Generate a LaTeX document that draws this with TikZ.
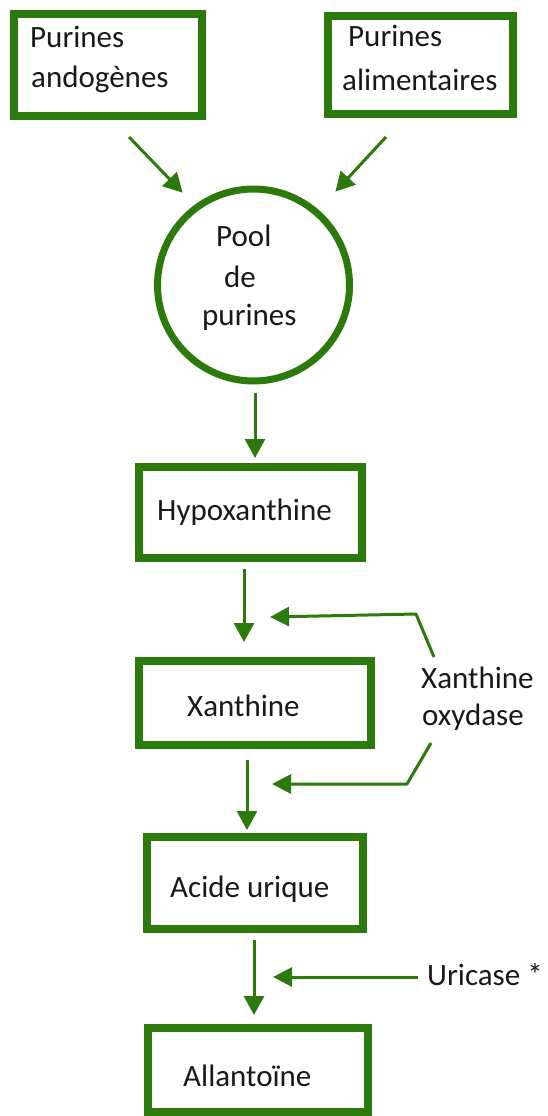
\documentclass[tikz,border=0pt]{standalone}
\usepackage{fontspec}
\setmainfont{Carlito}
\usetikzlibrary{arrows.meta}
\definecolor{grn}{RGB}{43,122,11}
\definecolor{ink}{RGB}{25,25,25}
\begin{document}
\begin{tikzpicture}[x=1pt,y=-1pt,
  box/.style={draw=grn, line width=8pt, rectangle, inner sep=0pt},
  poolshape/.style={draw=grn, line width=7pt, circle, inner sep=0pt},
  lbl/.style={anchor=base west, inner sep=0pt, text=ink, font=\fontsize{31}{37}\selectfont},
  arr/.style={draw=grn, line width=3pt, -{Triangle[length=19pt,width=20pt]}},
  enz/.style={draw=grn, line width=3pt, line join=round, -{Triangle[length=19pt,width=19pt]}}]
\useasboundingbox (0,0) rectangle (547,1116);
% boxes
\node[box, minimum width=188pt, minimum height=102pt] (b1) at (108,65) {};
\node[box, minimum width=185pt, minimum height=98pt] (b2) at (420.5,65) {};
\node[poolshape, minimum size=192pt] (pool) at (253.5,285) {};
\node[box, minimum width=223pt, minimum height=91pt] (hyp) at (250.5,512.5) {};
\node[box, minimum width=232pt, minimum height=84pt] (xan) at (255,703) {};
\node[box, minimum width=216pt, minimum height=92pt] (aci) at (255,883) {};
\node[box, minimum width=220pt, minimum height=84pt] (all) at (258,1070) {};
% texts
\node[lbl] (b1a) at (30,48) {Purines};
\node[lbl] (b1b) at (31,87) {andogènes};
\node[lbl] (b2a) at (348,47) {Purines};
\node[lbl] (b2b) at (342,90) {alimentaires};
\node[lbl] (pa) at (216,246) {Pool};
\node[lbl] (pb) at (224,287) {de};
\node[lbl] (pc) at (202,325) {purines};
\node[lbl] (hypt) at (157,520) {Hypoxanthine};
\node[lbl] (xant) at (187,716) {Xanthine};
\node[lbl] (xo1) at (421,688) {Xanthine};
\node[lbl] (xo2) at (422,725) {oxydase};
\node[lbl] (acit) at (170,897) {Acide urique};
\node[lbl] (uri) at (427,985) {Uricase *};
\node[lbl] (allt) at (183,1086) {Allantoïne};
% main arrows
\draw[arr] ([shift={(21pt,-17pt)}]b1.south) -- ([shift={(-0.5pt,22pt)}]pool.north west);
\draw[arr] ([shift={(-34.5pt,-19pt)}]b2.south) -- ([shift={(11.5pt,23pt)}]pool.north east);
\draw[arr] ([shift={(1.5pt,-8.5pt)}]pool.south) -- ([shift={(4.5pt,5pt)}]hyp.north);
\draw[arr] ([shift={(-6.5pt,-7pt)}]hyp.south) -- ([shift={(-11pt,15pt)}]xan.north);
\draw[arr] ([shift={(-8pt,-11pt)}]xan.south) -- ([shift={(-8pt,3pt)}]aci.north);
\draw[arr] ([shift={(-1pt,-7pt)}]aci.south) -- ([shift={(-4pt,9pt)}]all.north);
% enzyme arrows
\coordinate (xu0) at (434,657);
\coordinate (xu1) at (416,614);
\coordinate (xu2) at (270,617);
\coordinate (xl0) at (431,743);
\coordinate (xl1) at (407,784);
\coordinate (xl2) at (272,784);
\coordinate (u0) at (418,977);
\coordinate (u1) at (273,977);
\draw[enz] (xu0) -- (xu1) -- (xu2);
\draw[enz] (xl0) -- (xl1) -- (xl2);
\draw[enz] (u0) -- (u1);
\end{tikzpicture}
\end{document}
